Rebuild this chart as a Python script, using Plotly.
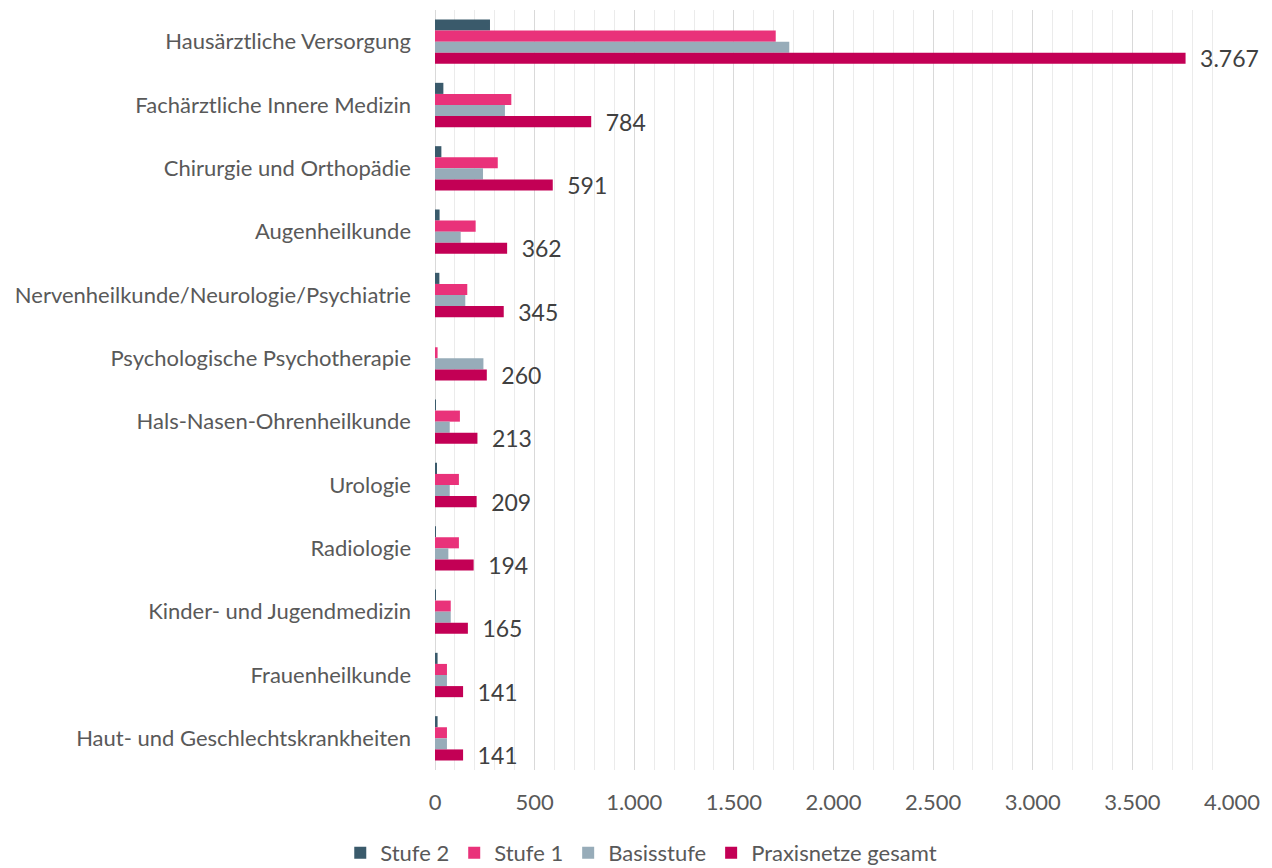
import plotly.graph_objects as go

categories = [
    "Hausärztliche Versorgung",
    "Fachärztliche Innere Medizin",
    "Chirurgie und Orthopädie",
    "Augenheilkunde",
    "Nervenheilkunde/Neurologie/Psychiatrie",
    "Psychologische Psychotherapie",
    "Hals-Nasen-Ohrenheilkunde",
    "Urologie",
    "Radiologie",
    "Kinder- und Jugendmedizin",
    "Frauenheilkunde",
    "Haut- und Geschlechtskrankheiten",
]

stufe2 = [276, 42, 32, 23, 22, 0, 5, 8, 2, 2, 13, 13]
stufe1 = [1710, 383, 315, 204, 162, 13, 125, 120, 120, 79, 60, 60]
basisstufe = [1778, 351, 241, 129, 152, 243, 74, 74, 67, 79, 60, 60]
gesamt = [3767, 784, 591, 362, 345, 260, 213, 209, 194, 165, 141, 141]

series = [
    ("Stufe 2", stufe2, "#3A5A6B"),
    ("Stufe 1", stufe1, "#E9327A"),
    ("Basisstufe", basisstufe, "#97ACB9"),
    ("Praxisnetze gesamt", gesamt, "#C30055"),
]

FONT = "Lato, Open Sans, sans-serif"

fig = go.Figure()
for name, vals, color in series:
    kw = {}
    if name == "Praxisnetze gesamt":
        kw = dict(
            text=["\u2002" + f"{v:,}".replace(",", ".") for v in vals],
            textposition="outside",
            constraintext="none",
            textfont=dict(size=23, color="#404040", family=FONT),
            cliponaxis=False,
        )
    fig.add_trace(go.Bar(
        name=name, y=categories, x=vals, orientation="h",
        marker=dict(color=color, line=dict(width=0)), **kw,
    ))

fig.update_layout(
    width=1264, height=860,
    barmode="group", bargap=0.3, bargroupgap=0,
    plot_bgcolor="white", paper_bgcolor="white",
    separators=",.",
    margin=dict(l=427, r=40, t=2, b=98),
    font=dict(family=FONT, size=22, color="#595959"),
    xaxis=dict(
        range=[0, 4000], dtick=500, tickformat=",d",
        showgrid=True, gridcolor="#D9D9D9", gridwidth=1,
        minor=dict(dtick=100, showgrid=True, gridcolor="#EBEBEB", gridwidth=1),
        zeroline=True, zerolinecolor="#D9D9D9", zerolinewidth=1,
        tickfont=dict(size=22, color="#595959"),
        ticks="", ticklabelstandoff=17,
    ),
    yaxis=dict(
        autorange="reversed", ticks="", showgrid=False,
        tickfont=dict(size=22, color="#595959"),
        ticklabelstandoff=23,
    ),
    legend=dict(
        orientation="h", xref="container", yref="container",
        x=0.501, xanchor="center", y=15 / 860, yanchor="middle",
        font=dict(size=22, color="#595959"),
        itemwidth=30, traceorder="normal",
    ),
    showlegend=True,
)

fig.write_html("out.html")
